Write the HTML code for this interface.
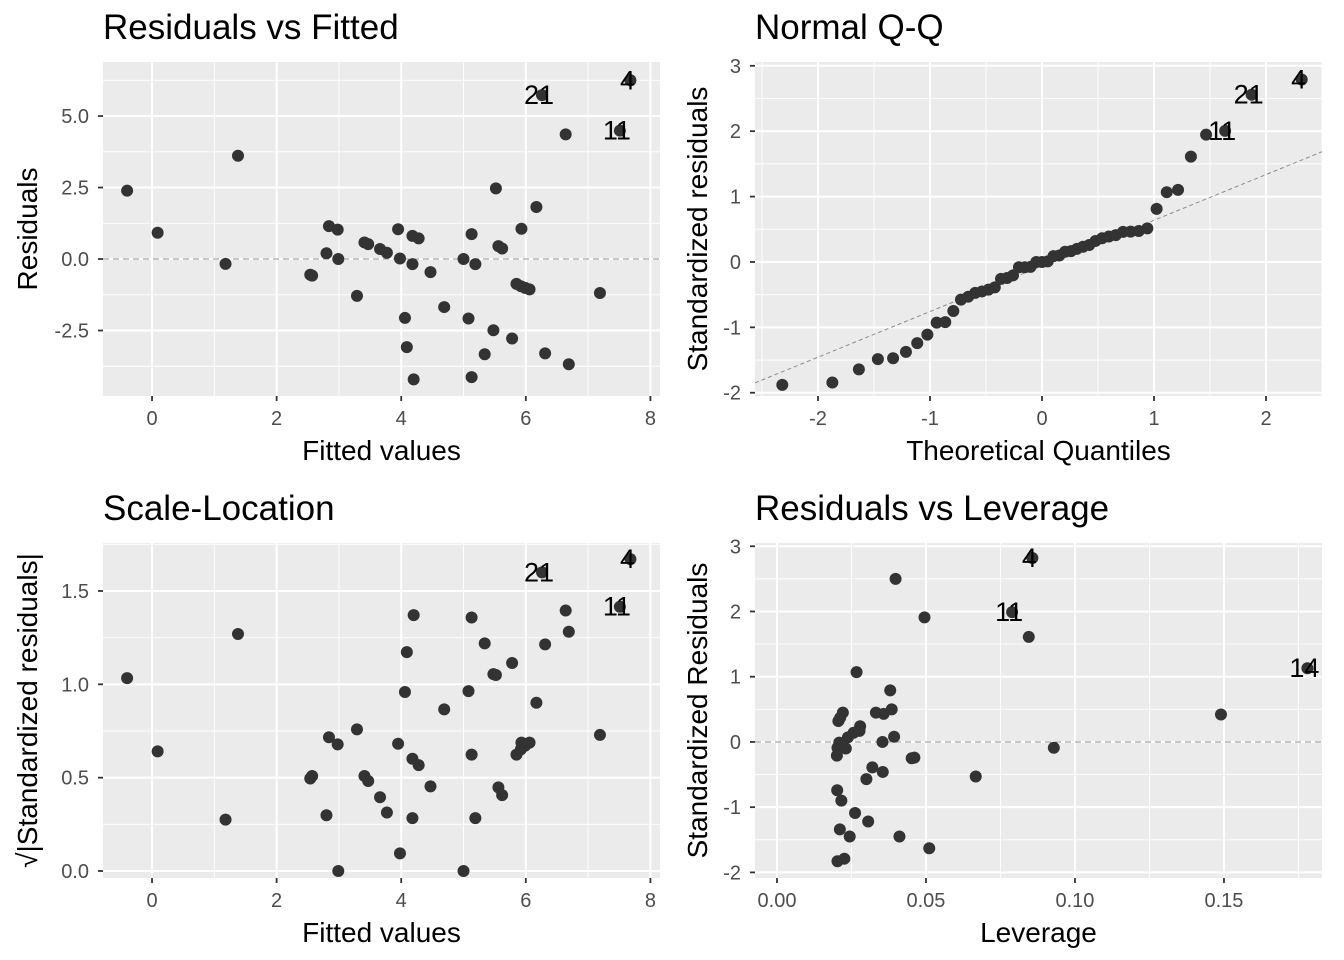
<!DOCTYPE html>
<html><head><meta charset="utf-8"><style>
html,body{margin:0;padding:0;background:#fff;}
svg{display:block;font-family:"Liberation Sans",Arial,sans-serif;}
</style></head><body>
<svg id="chart" width="1344" height="960" viewBox="0 0 1344 960" xmlns="http://www.w3.org/2000/svg"></svg>
<script>
// ---- data ----
const fitted = [-0.40,0.09,1.38,1.18,2.54,2.57,2.84,2.98,2.80,2.99,3.29,3.41,3.47,3.66,3.77,3.95,3.98,4.18,4.28,4.18,4.47,4.06,4.09,4.20,4.69,5.00,5.13,5.19,5.08,5.13,5.34,5.48,5.52,5.56,5.62,5.78,5.85,5.92,5.99,6.06,5.93,6.17,6.26,6.31,6.64,6.69,7.19,7.51,7.68];
const residuals = [2.39,0.92,3.61,-0.17,-0.55,-0.58,1.15,1.03,0.20,0.0,-1.29,0.58,0.52,0.35,0.22,1.04,0.02,0.81,0.72,-0.18,-0.46,-2.06,-3.08,-4.21,-1.68,0.0,0.87,-0.18,-2.08,-4.13,-3.33,-2.49,2.47,0.45,0.37,-2.78,-0.87,-0.95,-1.01,-1.06,1.06,1.82,5.73,-3.30,4.36,-3.68,-1.19,4.49,6.25];
const pointLabels = ["","","","","","","","","","","","","","","","","","","","","","","","","","","","","","","","","","","","","","","","","","","21","","","","","11","4"];
const residualSigma = 2.24;
const leverage = [0.0398,0.0495,0.0789,0.0845,0.0857,0.178,0.149,0.0929,0.0667,0.0267,0.038,0.0332,0.0358,0.0385,0.0221,0.0206,0.0212,0.0279,0.0277,0.0257,0.0238,0.0209,0.0203,0.0231,0.0201,0.0354,0.0393,0.0452,0.0461,0.032,0.0355,0.030,0.0202,0.0216,0.0262,0.0306,0.0211,0.0244,0.0411,0.0511,0.0203,0.0226];
const levStdResid = [2.50,1.91,1.99,1.61,2.82,1.13,0.42,-0.09,-0.53,1.07,0.79,0.45,0.43,0.50,0.45,0.32,0.37,0.24,0.17,0.14,0.07,-0.01,-0.09,-0.10,-0.21,0.0,0.08,-0.25,-0.24,-0.39,-0.46,-0.57,-0.74,-0.90,-1.09,-1.22,-1.34,-1.45,-1.45,-1.63,-1.83,-1.79];
const levLabels = ["","","11","","4","14","","","","","","","","","","","","","","","","","","","","","","","","","","","","","","","","","","","",""];
const ticksP1x = [0,2,4,6,8], ticksP1y = [-2.5,0,2.5,5];
const ticksP2x = [-2,-1,0,1,2], ticksP2y = [-2,-1,0,1,2,3];
const ticksP3y = [0,0.5,1,1.5];
const ticksP4x = [0,0.05,0.1,0.15];
const tickLabP1y = ["-2.5","0.0","2.5","5.0"];
const tickLabP3y = ["0.0","0.5","1.0","1.5"];
const tickLabP4x = ["0.00","0.05","0.10","0.15"];

const NS="http://www.w3.org/2000/svg";
const svg=document.getElementById('chart');
function mk(tag,attrs,parent){const e=document.createElementNS(NS,tag);for(const k in attrs)e.setAttribute(k,attrs[k]);(parent||svg).appendChild(e);return e;}

function qnorm(p){
  const a=[-39.6968302866538,220.946098424521,-275.928510446969,138.357751867269,-30.6647980661472,2.50662827745924];
  const b=[-54.4760987982241,161.585836858041,-155.698979859887,66.8013118877197,-13.2806815528857];
  const c=[-0.00778489400243029,-0.322396458041136,-2.40075827716184,-2.54973253934373,4.37466414146497,2.93816398269878];
  const d=[0.00778469570904146,0.32246712907004,2.445134137143,3.75440866190742];
  let q,r;
  if(p<0.02425){q=Math.sqrt(-2*Math.log(p));return (((((c[0]*q+c[1])*q+c[2])*q+c[3])*q+c[4])*q+c[5])/((((d[0]*q+d[1])*q+d[2])*q+d[3])*q+1);}
  if(p>1-0.02425){q=Math.sqrt(-2*Math.log(1-p));return -(((((c[0]*q+c[1])*q+c[2])*q+c[3])*q+c[4])*q+c[5])/((((d[0]*q+d[1])*q+d[2])*q+d[3])*q+1);}
  q=p-0.5;r=q*q;return (((((a[0]*r+a[1])*r+a[2])*r+a[3])*r+a[4])*r+a[5])*q/(((((b[0]*r+b[1])*r+b[2])*r+b[3])*r+b[4])*r+1);
}

function panel(o){
  const g=mk('g',{});
  
  
  const sx=v=>o.x0+(v-o.xd[0])/(o.xd[1]-o.xd[0])*(o.x1-o.x0);
  const sy=v=>o.y1-(v-o.yd[0])/(o.yd[1]-o.yd[0])*(o.y1-o.y0);
  const bg=mk('rect',{x:o.x0,y:o.y0,width:o.x1-o.x0,height:o.y1-o.y0,fill:'#ebebeb'},g);
  
  
  const minors=(t,d)=>{const st=t[1]-t[0];const out=[];for(let v=t[0]-st/2;v<=d[1];v+=st){if(v>=d[0])out.push(v);}return out;};
  minors(o.xt,o.xd).forEach(v=>mk('line',{x1:sx(v),x2:sx(v),y1:o.y0,y2:o.y1,stroke:'#fff','stroke-width':0.9},g));
  minors(o.yt,o.yd).forEach(v=>mk('line',{y1:sy(v),y2:sy(v),x1:o.x0,x2:o.x1,stroke:'#fff','stroke-width':0.9},g));
  o.xt.forEach((v,i)=>{
    mk('line',{x1:sx(v),x2:sx(v),y1:o.y0,y2:o.y1,stroke:'#fff','stroke-width':2},g);
    mk('line',{x1:sx(v),x2:sx(v),y1:o.y1,y2:o.y1+5,stroke:'#333','stroke-width':1.8},g);
    const t=mk('text',{x:sx(v),y:o.y1+29,'text-anchor':'middle','font-size':20,fill:'#4d4d4d'},g);
    t.textContent=o.xl?o.xl[i]:String(v);
    
    
  });
  o.yt.forEach((v,i)=>{
    mk('line',{y1:sy(v),y2:sy(v),x1:o.x0,x2:o.x1,stroke:'#fff','stroke-width':2},g);
    mk('line',{y1:sy(v),y2:sy(v),x1:o.x0-5,x2:o.x0,stroke:'#333','stroke-width':1.8},g);
    const t=mk('text',{x:o.x0-14,y:sy(v)+7,'text-anchor':'end','font-size':20,fill:'#4d4d4d'},g);
    t.textContent=o.yl?o.yl[i]:String(v);
    
    
  });
  if(o.hline!==undefined){const l=mk('line',{x1:o.x0,x2:o.x1,y1:sy(o.hline),y2:sy(o.hline),stroke:'#8c8c8c','stroke-width':1,'stroke-dasharray':'6,4'},g);
    }
  if(o.abline){const [a,b]=o.abline;const cp=mk('clipPath',{id:'cp'+o.name},g);mk('rect',{x:o.x0,y:o.y0,width:o.x1-o.x0,height:o.y1-o.y0},cp);
    const l=mk('line',{x1:sx(o.xd[0]),x2:sx(o.xd[1]),y1:sy(a+b*o.xd[0]),y2:sy(a+b*o.xd[1]),stroke:'#8c8c8c','stroke-width':1,'stroke-dasharray':'4,3','clip-path':'url(#cp'+o.name+')'},g);
    }
  o.xs.forEach((xv,i)=>{
    const c=mk('circle',{cx:sx(xv),cy:sy(o.ys[i]),r:6,fill:'#333'},g);
    
    
  });
  o.xs.forEach((xv,i)=>{
    if(!o.labs[i])return;
    const t=mk('text',{x:sx(xv)-3,y:sy(o.ys[i])+9,'text-anchor':'middle','font-size':27,fill:'#000'},g);
    t.textContent=o.labs[i];
    
    
  });
  const tt=mk('text',{x:o.x0,y:o.y0-23,'font-size':35,fill:'#000'},g);tt.textContent=o.title;
  
  const xt=mk('text',{x:(o.x0+o.x1)/2,y:o.y1+64,'text-anchor':'middle','font-size':28,fill:'#000'},g);xt.textContent=o.xtitle;
  
  const yx=o.ytx, yc=(o.y0+o.y1)/2;
  const yt=mk('text',{x:yx,y:yc,'text-anchor':'middle','font-size':28,fill:'#000',transform:`rotate(-90 ${yx} ${yc})`},g);yt.textContent=o.ytitle;
  
}

// derived series
const stdRes = residuals.map(r=>r/residualSigma);
const n=stdRes.length;
const order=stdRes.map((v,i)=>i).sort((a,b)=>stdRes[a]-stdRes[b]);
const qqY=order.map(i=>stdRes[i]);
const qqX=order.map((i,k)=>qnorm((k+1-0.5)/n));
const qqLab=order.map(i=>pointLabels[i]);
const quant=(arr,p)=>{const s=[...arr].sort((a,b)=>a-b);const h=(s.length-1)*p;const lo=Math.floor(h);return s[lo]+(h-lo)*(s[lo+1]-s[lo]);};
const q1=quant(stdRes,0.25),q3=quant(stdRes,0.75),z1=qnorm(0.25),z3=qnorm(0.75);
const slope=(q3-q1)/(z3-z1), icpt=q1-slope*z1;
const slY=stdRes.map(v=>Math.sqrt(Math.abs(v)));

panel({name:'residuals-vs-fitted',x0:103,x1:660,y0:62,y1:396,xd:[-0.787,8.154],yd:[-4.79,6.89],xt:ticksP1x,yt:ticksP1y,yl:tickLabP1y,xs:fitted,ys:residuals,labs:pointLabels,hline:0,ytx:37,title:'Residuals vs Fitted',xtitle:'Fitted values',ytitle:'Residuals'});
panel({name:'normal-qq',x0:755,x1:1322,y0:62,y1:396,xd:[-2.5625,2.5],yd:[-2.05,3.058],xt:ticksP2x,yt:ticksP2y,xs:qqX,ys:qqY,labs:qqLab,abline:[icpt,slope],ytx:707,title:'Normal Q-Q',xtitle:'Theoretical Quantiles',ytitle:'Standardized residuals'});
panel({name:'scale-location',x0:103,x1:660,y0:543,y1:878,xd:[-0.787,8.154],yd:[-0.0375,1.757],xt:ticksP1x,yt:ticksP3y,yl:tickLabP3y,xs:fitted,ys:slY,labs:pointLabels,ytx:37,title:'Scale-Location',xtitle:'Fitted values',ytitle:'\u221A|Standardized residuals|'});
panel({name:'residuals-vs-leverage',x0:755,x1:1322,y0:543,y1:878,xd:[-0.00738,0.1829],yd:[-2.086,3.05],xt:ticksP4x,xl:tickLabP4x,yt:ticksP2y,xs:leverage,ys:levStdResid,labs:levLabels,hline:0,ytx:707,title:'Residuals vs Leverage',xtitle:'Leverage',ytitle:'Standardized Residuals'});
</script>
</body></html>
